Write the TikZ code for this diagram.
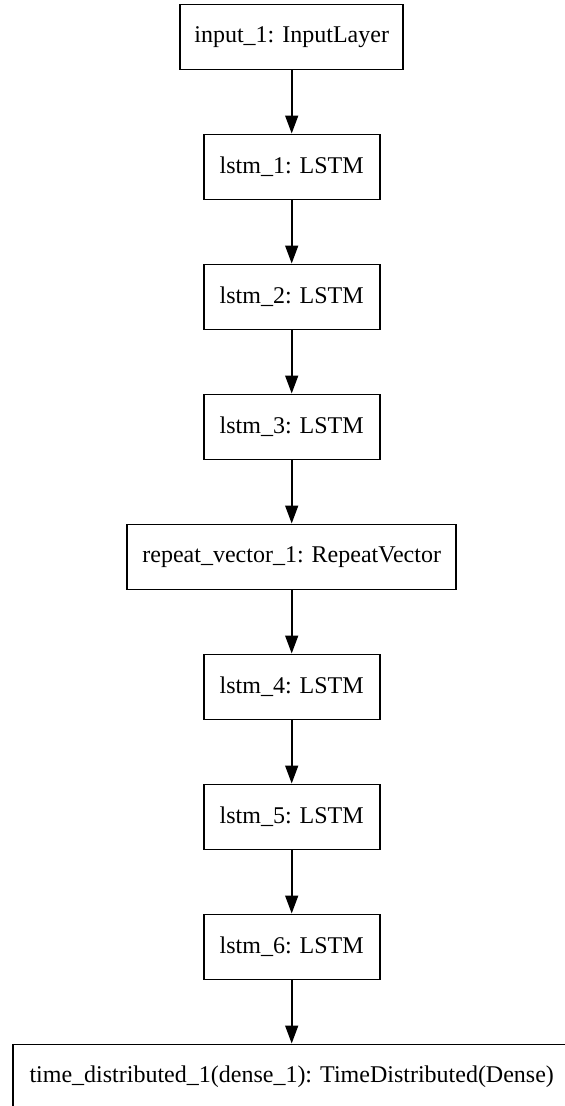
\documentclass[tikz,border=0pt]{standalone}
\usepackage{fontspec}
\setmainfont{Liberation Serif}
\usetikzlibrary{arrows.meta}
\tikzset{
  layer/.style={draw=black, line width=1.6pt, rectangle, minimum height=65pt, inner sep=0pt,
    font=\fontsize{24}{28}\selectfont, text=black},
  conn/.style={draw=black, line width=1.6pt, -{Triangle[length=18pt,width=13pt]}}
}
\begin{document}
\begin{tikzpicture}[x=1pt,y=-1pt]
\useasboundingbox (0,0) rectangle (565,1106);
\clip (0,0) rectangle (565,1106);
\node[layer, minimum width=223pt] (in)  at (291.7, 36.8)  {input\_1: InputLayer};
\node[layer, minimum width=176pt] (l1)  at (291.7, 166.8) {lstm\_1: LSTM};
\node[layer, minimum width=176pt] (l2)  at (291.7, 296.8) {lstm\_2: LSTM};
\node[layer, minimum width=176pt] (l3)  at (291.7, 426.8) {lstm\_3: LSTM};
\node[layer, minimum width=329pt] (rv)  at (291.7, 556.8) {repeat\_vector\_1: RepeatVector};
\node[layer, minimum width=176pt] (l4)  at (291.7, 686.8) {lstm\_4: LSTM};
\node[layer, minimum width=176pt] (l5)  at (291.7, 816.8) {lstm\_5: LSTM};
\node[layer, minimum width=176pt] (l6)  at (291.7, 946.8) {lstm\_6: LSTM};
\node[layer, minimum width=557pt] (td)  at (291.7, 1076.8) {time\_distributed\_1(dense\_1): TimeDistributed(Dense)};
\draw[conn] (in) -- (l1);
\draw[conn] (l1) -- (l2);
\draw[conn] (l2) -- (l3);
\draw[conn] (l3) -- (rv);
\draw[conn] (rv) -- (l4);
\draw[conn] (l4) -- (l5);
\draw[conn] (l5) -- (l6);
\draw[conn] (l6) -- (td);
\end{tikzpicture}
\end{document}
